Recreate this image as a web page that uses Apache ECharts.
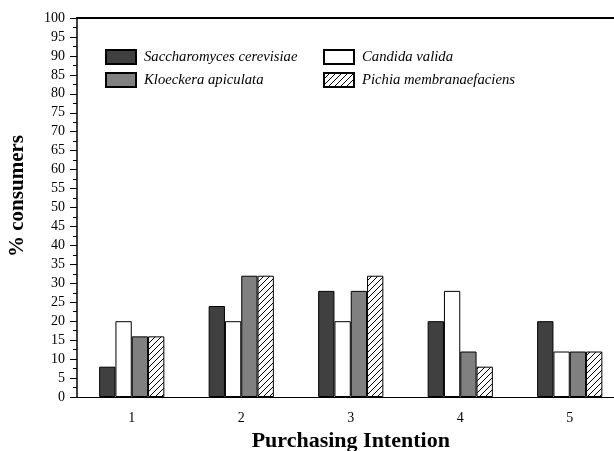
<!DOCTYPE html>
<html><head><meta charset="utf-8">
<script src="https://cdn.jsdelivr.net/npm/echarts@6/dist/echarts.min.js"></script>
<style>html,body{margin:0;padding:0;background:#fff}#c{width:614px;height:451px}</style>
</head><body><div id="c"></div>
<script>
var categories = ['1', '2', '3', '4', '5'];
var seriesNames = ['Saccharomyces cerevisiae', 'Candida valida', 'Kloeckera apiculata', 'Pichia membranaefaciens'];
var saccharomyces = [8, 24, 28, 20, 20];
var candida = [20, 20, 20, 28, 12];
var kloeckera = [16, 32, 28, 12, 12];
var pichia = [16, 32, 32, 8, 12];
var yTicks = {min: 0, max: 100, interval: 5};

function hatch() {
  var c = document.createElement('canvas');
  c.width = 6; c.height = 6;
  var g = c.getContext('2d');
  g.fillStyle = '#fff'; g.fillRect(0, 0, 6, 6);
  g.strokeStyle = '#000'; g.lineWidth = 1;
  g.beginPath();
  g.moveTo(0, 6); g.lineTo(6, 0);
  g.moveTo(-1, 1); g.lineTo(1, -1);
  g.moveTo(5, 7); g.lineTo(7, 5);
  g.stroke();
  return {image: c, repeat: 'repeat'};
}

var chart = echarts.init(document.getElementById('c'), null, {renderer: 'canvas'});
var serif = 'Liberation Serif, Times New Roman, serif';
function bar(name, data, color) {
  return {
    name: name, type: 'bar', data: data, barWidth: 16.3, barGap: '0%',
    itemStyle: {color: color, borderColor: '#000', borderWidth: 1},
    emphasis: {disabled: true}
  };
}
var legendText = {fontFamily: serif, fontStyle: 'italic', fontSize: 14.7, color: '#000', padding: [0, 0, 0, 3]};
var legendBase = {orient: 'vertical', top: 49, padding: 0, icon: 'rect', itemWidth: 30, itemHeight: 14, itemGap: 7, textStyle: legendText, selectedMode: false};
chart.setOption({
  animation: false,
  grid: {left: 77, width: 547.5, top: 18, bottom: 54, outerBoundsMode: 'none', containLabel: false},
  legend: [
    Object.assign({data: [seriesNames[0], seriesNames[2]], left: 105}, legendBase),
    Object.assign({data: [seriesNames[1], seriesNames[3]], left: 323}, legendBase)
  ],
  xAxis: [{
    type: 'category', data: categories,
    name: 'Purchasing Intention', nameLocation: 'middle', nameGap: 33,
    nameTextStyle: {fontFamily: serif, fontWeight: 'bold', fontSize: 22, color: '#000'},
    axisLine: {lineStyle: {color: '#000', width: 1}},
    axisTick: {alignWithLabel: true, length: 6, lineStyle: {color: '#000'}},
    axisLabel: {fontFamily: serif, fontSize: 14, color: '#000', margin: 14}
  }, {
    type: 'category', data: categories, position: 'top',
    axisLine: {lineStyle: {color: '#000', width: 2}},
    axisTick: {show: false}, axisLabel: {show: false}
  }],
  yAxis: {
    type: 'value', min: yTicks.min, max: yTicks.max, interval: yTicks.interval,
    name: '% consumers', nameLocation: 'middle', nameGap: 49,
    nameTextStyle: {fontFamily: serif, fontWeight: 'bold', fontSize: 21, color: '#000', padding: [0, 0, 0, 23]},
    axisLine: {show: true, lineStyle: {color: '#000', width: 1.5}},
    axisTick: {show: true, length: 7, lineStyle: {color: '#000'}},
    minorTick: {show: true, splitNumber: 2, length: 4, lineStyle: {color: '#000'}},
    splitLine: {show: false},
    axisLabel: {fontFamily: serif, fontSize: 14, color: '#000', margin: 12}
  },
  series: [
    bar(seriesNames[0], saccharomyces, '#404040'),
    bar(seriesNames[1], candida, '#ffffff'),
    bar(seriesNames[2], kloeckera, '#808080'),
    bar(seriesNames[3], pichia, hatch())
  ]
});
</script></body></html>
